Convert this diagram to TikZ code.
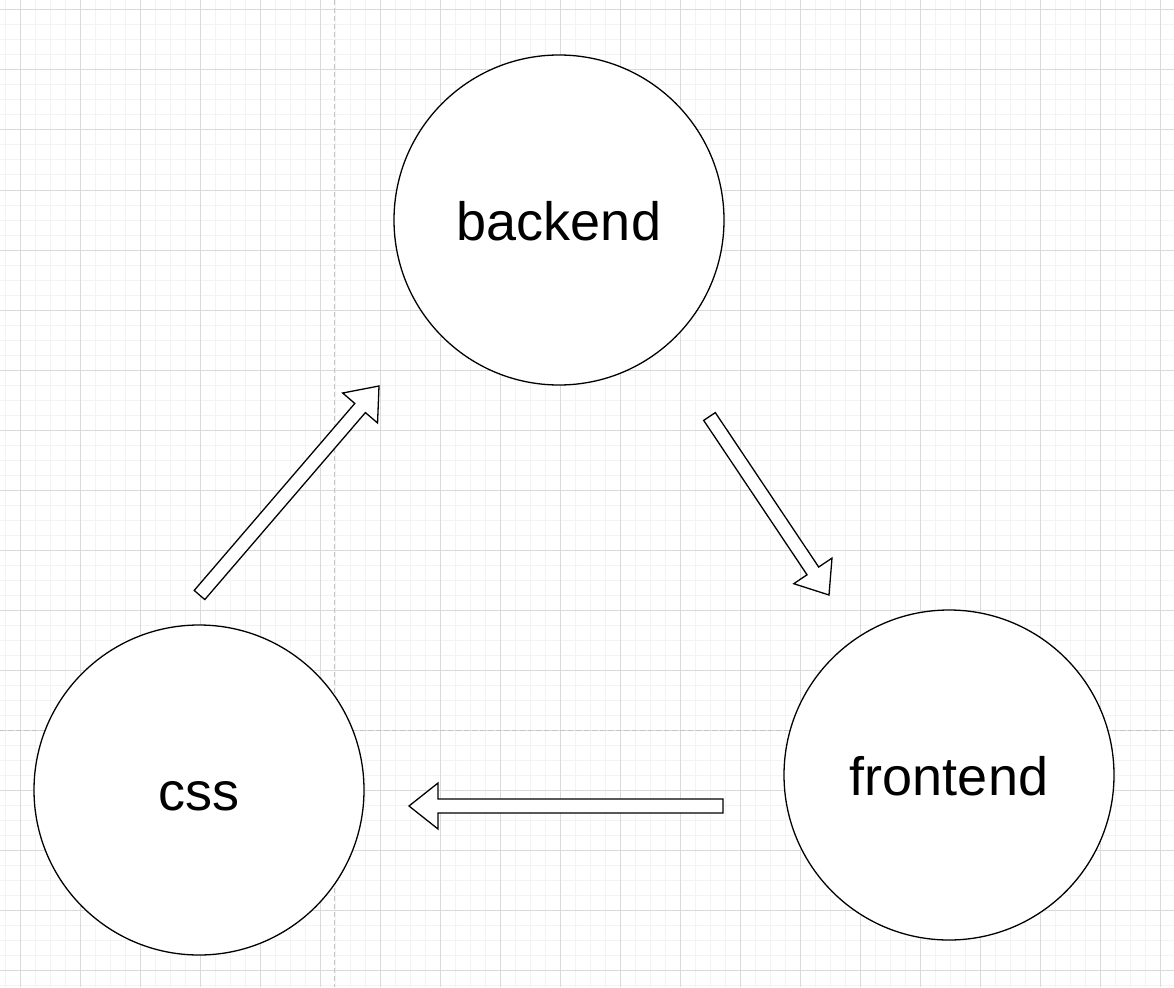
\documentclass[tikz,border=0pt]{standalone}
\usepackage{fontspec}
\setmainfont{Liberation Sans}
\usetikzlibrary{calc}
\definecolor{minorgrid}{HTML}{F3F3F3}
\definecolor{majorgrid}{HTML}{DADADA}
\definecolor{pagebreak}{HTML}{C4C4C4}
\tikzset{
  bubble/.style={circle, draw, fill=white, line width=1.3pt, minimum size=330pt,
    inner sep=0pt, font=\fontsize{54}{64}\selectfont, text height=40pt, text depth=0pt},
  blockarrow/.style={draw, fill=white, line width=1.3pt, line join=miter,
    to path={let \p1=(\tikztostart), \p2=(\tikztotarget),
      \n1={atan2(\y2-\y1,\x2-\x1)}, \n2={veclen(\x2-\x1,\y2-\y1)} in
      ($(\p1)+(\n1-90:7pt)$) -- ++(\n1:\n2-29pt) -- ++(\n1-90:16pt) -- (\p2)
      -- ($(\p2)+(\n1+180:29pt)+(\n1+90:23pt)$) -- ++(\n1-90:16pt)
      -- ($(\p1)+(\n1+90:7pt)$) -- cycle}}
}
\begin{document}
\begin{tikzpicture}[x=1pt, y=-1pt]
\useasboundingbox (0,0) rectangle (1174,987);
\fill[white] (0,0) rectangle (1174,987);
\foreach \x in {5,20,...,1170}
{
    \draw[minorgrid, line width=1pt] (\x,0)--(\x,987);
}
\foreach \y in {10,25,...,985}
{
    \draw[minorgrid, line width=1pt] (0,\y)--(1174,\y);
}
\foreach \x in {20,80,...,1160}
{
    \draw[majorgrid, line width=1pt] (\x,0)--(\x,987);
}
\foreach \y in {10,70,...,970}
{
    \draw[majorgrid, line width=1pt] (0,\y)--(1174,\y);
}
\draw[pagebreak, line width=1pt, dash pattern=on 5pt off 3pt] (334,0)--(334,987);
\draw[pagebreak, line width=1pt, dash pattern=on 5pt off 3pt] (0,730)--(1174,730);

\node[bubble] (backend) at (559,220) {backend};
\node[bubble] (css) at (199,790) {css};
\node[bubble] (frontend) at (949,775) {frontend};

\coordinate (css-out) at (199.5,595);
\coordinate (backend-in) at (379,386);
\coordinate (backend-out) at (709.5,416.5);
\coordinate (frontend-in) at (829,595);
\coordinate (frontend-out) at (723,806);
\coordinate (css-in) at (409,806);

\draw[blockarrow] (css-out) to (backend-in);
\draw[blockarrow] (backend-out) to (frontend-in);
\draw[blockarrow] (frontend-out) to (css-in);
\end{tikzpicture}
\end{document}
